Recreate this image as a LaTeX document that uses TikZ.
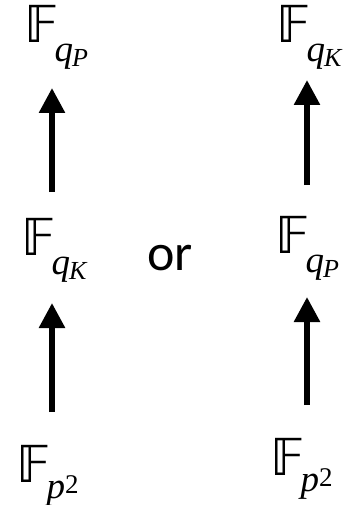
\documentclass[tikz,border=0pt]{standalone}
\usepackage{fontspec}
\usetikzlibrary{arrows.meta}
\newfontfamily\tnr{Liberation Serif}
\newfontfamily\orfont{Carlito}
\newfontfamily\dsfont{DejaVu Sans}

% field symbol with a subscript, and with a squared subscript
\newcommand{\fldsub}[2]{{\dsfont 𝔽}\kern-4pt\raisebox{-19pt}{\tnr\itshape\fontsize{37}{37}\selectfont #1\kern-1pt\raisebox{-5pt}{\fontsize{26}{26}\selectfont #2}}}
\newcommand{\fldsup}[2]{{\dsfont 𝔽}\kern-4pt\raisebox{-16pt}{\tnr\itshape\fontsize{37}{37}\selectfont #1\raisebox{5pt}{\upshape\fontsize{27}{27}\selectfont #2}}}

\tikzset{
  fld/.style={anchor=base west, inner sep=0pt, font=\fontsize{51}{56}\selectfont},
  orlbl/.style={anchor=base west, inner sep=0pt, font=\orfont\fontsize{52}{58}\selectfont},
  uparrow/.style={line width=5.7pt, -{Triangle[width=25pt,length=25pt]}}
}

\begin{document}
\begin{tikzpicture}[x=1pt, y=-1pt]
    \useasboundingbox (0,0) rectangle (349,505);

    % left tower
    \node[fld] (lt) at (24,43) {\fldsub{q}{P}};
    \node[fld] (lm) at (21,255) {\fldsub{q}{K}};
    \node[fld] (lb) at (16,482) {\fldsup{p}{2}};

    % right tower
    \node[fld] (rt) at (276,43) {\fldsub{q}{K}};
    \node[fld] (rm) at (275,253) {\fldsub{q}{P}};
    \node[fld] (rb) at (270,475) {\fldsup{p}{2}};

    \node[orlbl] (or) at (147,270) {or};

    \coordinate (l1s) at (52,192);  \coordinate (l1e) at (52,88);
    \coordinate (l2s) at (52,412);  \coordinate (l2e) at (52,303);
    \coordinate (r1s) at (307,185); \coordinate (r1e) at (307,80);
    \coordinate (r2s) at (307,405); \coordinate (r2e) at (307,297);

    \draw[uparrow] (l1s) -- (l1e);
    \draw[uparrow] (l2s) -- (l2e);
    \draw[uparrow] (r1s) -- (r1e);
    \draw[uparrow] (r2s) -- (r2e);
\end{tikzpicture}
\end{document}
